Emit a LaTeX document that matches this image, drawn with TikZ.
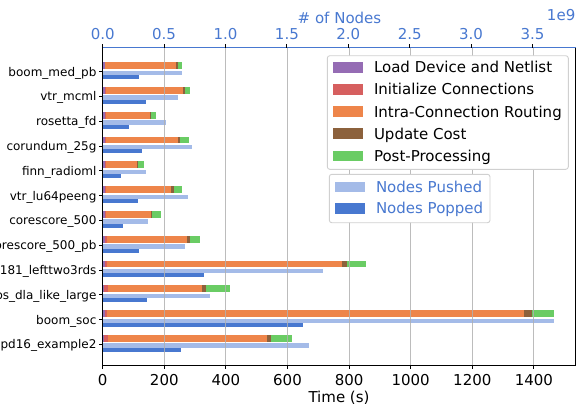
\documentclass[tikz,border=0pt]{standalone}
\usepackage{fontspec}
\setmainfont{DejaVu Sans}
\definecolor{cload}{HTML}{956CB4}
\definecolor{cinit}{HTML}{D65F5F}
\definecolor{croute}{HTML}{EE854A}
\definecolor{cupd}{HTML}{8C613C}
\definecolor{cpost}{HTML}{6ACC64}
\definecolor{cblue}{HTML}{4878D0}
\definecolor{cpush}{HTML}{A4BBE8}
\definecolor{cgrid}{HTML}{B0B0B0}
\definecolor{cframe}{HTML}{D0D0D0}
\tikzset{
  bigfont/.style={font=\fontsize{15}{18}\selectfont},
  smallfont/.style={font=\fontsize{12}{14}\selectfont},
  spine/.style={line width=1.1pt},
  tickmark/.style={line width=1pt},
  gridline/.style={cgrid, line width=1pt, opacity=0.85},
  legframe/.style={draw=cframe, fill=white, line width=0.9pt, rounded corners=2.5pt},
  legtext/.style={bigfont, anchor=base west, inner sep=0pt},
}
\begin{document}
\begin{tikzpicture}[x=1pt,y=-1pt]
\useasboundingbox (0,0) rectangle (577,408);
\clip (0,0) rectangle (577,408);
% bars
\foreach \i/\lab/\p/\r/\o/\b/\g/\pu/\po/\ps in {
 1/boom\_med\_pb/104.5/105.2/176/178/182/182/139/102.7,
 2/vtr\_mcml/105/106/183/185/190/178/146/102.7,
 3/rosetta\_fd/105/106/150/151/156/166/129/102.7,
 4/corundum\_25g/105/106/178/180/189/192/142/102.7,
 5/finn\_radioml/105/106/137/138/144/146/121/102.7,
 6/vtr\_lu64peeng/105/106/171/174/182/188/138/102.7,
 7/corescore\_500/105/106/151/152/161/148/123/102.7,
 8/corescore\_500\_pb/104.5/106.7/187/190/200/185/139/102.7,
 9/mlcad\_d181\_lefttwo3rds/104.5/106.7/342/347/366/323/204/102.7,
 10/koios\_dla\_like\_large/104.3/108/202/206/230/210/147/101.7,
 11/boom\_soc/104.5/106.7/524/532/554/554/303/102.7,
 12/ispd16\_example2/104.3/108/267/271/292/309/181/101.7}
{
 \pgfmathsetmacro\c{71.6+24.8*(\i-1)}
 \fill[cload]  (102.7,\c-9.5) rectangle (\p,\c-2.7);
 \fill[cinit]  (\p,\c-9.5) rectangle (\r,\c-2.7);
 \fill[croute] (\r,\c-9.5) rectangle (\o,\c-2.7);
 \fill[cupd]   (\o,\c-9.5) rectangle (\b,\c-2.7);
 \fill[cpost]  (\b,\c-9.5) rectangle (\g,\c-2.7);
 \fill[cpush]  (102.7,\c-1) rectangle (\pu,\c+3.4);
 \fill[cblue]  (\ps,\c+3.4) rectangle (\po,\c+7.4);
 \draw[tickmark] (99.2,\c) -- (102.7,\c);
 \node[smallfont, anchor=base east, inner sep=0pt] (ylab\i) at (96.6,\c+4.4) {\lab};
}
% grid lines
\foreach \t in {200,400,...,1400}{
 \pgfmathsetmacro\xx{102.7+0.308*\t}
 \draw[gridline] (\xx,47.7) -- (\xx,365.7);
}
% legend 1
\draw[legframe] (327.3,55.7) rectangle (568.3,169.3);
\foreach \k/\col/\txt in {0/cload/Load Device and Netlist, 1/cinit/Initialize Connections, 2/croute/Intra-Connection Routing, 3/cupd/Update Cost, 4/cpost/Post-Processing}{
 \pgfmathsetmacro\yy{67.3+22.1*\k}
 \fill[\col] (332.7,\yy-5.2) rectangle (363,\yy+5.2);
 \node[legtext] (leg\k) at (373.8,\yy+5.5) {\txt};
}
% legend 2
\draw[legframe] (329.3,174.3) rectangle (490,222.7);
\foreach \k/\col/\txt in {0/cpush/Nodes Pushed, 1/cblue/Nodes Popped}{
 \pgfmathsetmacro\yy{186.7+21.6*\k}
 \fill[\col] (335,\yy-5.2) rectangle (365,\yy+5.2);
 \node[legtext, text=cblue] (legb\k) at (375.8,\yy+5.5) {\txt};
}
% spines
\draw[spine] (102.7,47.7) -- (102.7,365.7) -- (575.7,365.7) -- (575.7,47.7);
\draw[spine, cblue] (102.7,47.7) -- (575.7,47.7);
% bottom ticks
\foreach \t in {0,200,...,1400}{
 \pgfmathsetmacro\xx{102.7+0.308*\t}
 \draw[tickmark] (\xx,365.7) -- (\xx,369.2);
 \node[bigfont, anchor=base, inner sep=0pt] (bt\t) at (\xx,385.3) {\t};
}
\node[bigfont, anchor=base, inner sep=0pt] (xlabel) at (339,402.5) {Time (s)};
% top ticks
\foreach \v/\s in {0/0.0,1/0.5,2/1.0,3/1.5,4/2.0,5/2.5,6/3.0,7/3.5}{
 \pgfmathsetmacro\xx{102.7+61.4*\v}
 \draw[tickmark] (\xx,47.7) -- (\xx,44.2);
 \node[bigfont, text=cblue, anchor=base, inner sep=0pt] (tt\v) at (\xx,39) {\s};
}
\node[bigfont, text=cblue, anchor=base, inner sep=0pt] (toplabel) at (339.5,23.3) {\# of Nodes};
\node[bigfont, text=cblue, anchor=base east, inner sep=0pt] (expo) at (575.5,20.7) {1e9};
\end{tikzpicture}
\end{document}
